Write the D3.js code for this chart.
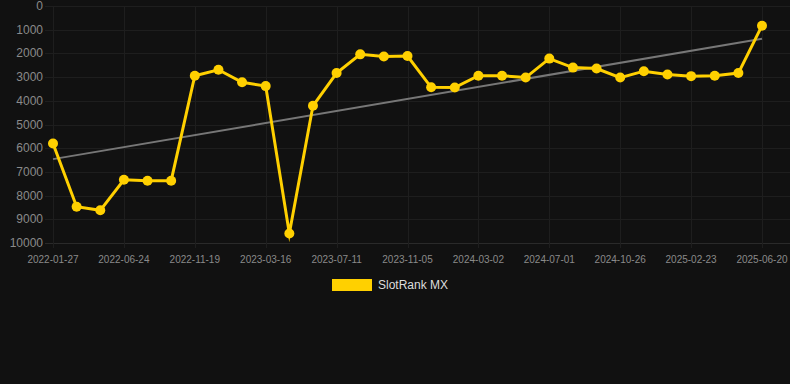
<!DOCTYPE html>
<html><head><meta charset="utf-8">
<script src="https://cdn.jsdelivr.net/npm/d3@7"></script>
<style>
html,body{margin:0;padding:0;background:#111111;}
svg{display:block;font-family:"Liberation Sans",Arial,sans-serif;}
</style></head>
<body>
<svg id="c" width="790" height="384"></svg>
<script>
const seriesName = "SlotRank MX";
const values = [5800,8470,8620,7330,7370,7370,2940,2690,3220,3380,9600,4210,2830,2040,2130,
                2110,3430,3440,2940,2940,3020,2220,2600,2640,3020,2750,2890,2960,2940,2830,830];
const tickLabels = ["2022-01-27","2022-06-24","2022-11-19","2023-03-16","2023-07-11","2023-11-05",
                    "2024-03-02","2024-07-01","2024-10-26","2025-02-23","2025-06-20"];
const tickEvery = 3;
const yTicks = [0,1000,2000,3000,4000,5000,6000,7000,8000,9000,10000];

(function(){
const svg = d3.select("#c");
const W = 790, H = 384;
svg.append("rect").attr("width",W).attr("height",H).attr("fill","#111111");
const pL = 53, pR = 762, pT = 6, pB = 243;

const x = d3.scaleLinear().domain([0, values.length-1]).range([pL, pR]);
const y = d3.scaleLinear().domain([0, 10000]).range([pT, pB]);

// grid
const g = svg.append("g");
g.selectAll("line.h").data(yTicks).join("line")
  .attr("x1", 45).attr("x2", pR+28).attr("y1", d=>Math.round(y(d))+0.5).attr("y2", d=>Math.round(y(d))+0.5)
  .attr("stroke", d=> d===10000 ? "#2a2a2a" : "#1e1e1e").attr("stroke-width",1);
const tickIdx = tickLabels.map((_,i)=>i*tickEvery);
g.selectAll("line.v").data(tickIdx).join("line")
  .attr("x1", d=>Math.round(x(d))+0.5).attr("x2", d=>Math.round(x(d))+0.5)
  .attr("y1", pT).attr("y2", pB+5)
  .attr("stroke","#1e1e1e").attr("stroke-width",1);

// y axis labels
svg.append("g").selectAll("text").data(yTicks).join("text")
  .attr("x", 43).attr("y", d=>y(d)+4)
  .attr("text-anchor","end").attr("fill","#8a8a8a").attr("font-size","12px")
  .text(d=>d);

// x axis labels
svg.append("g").selectAll("text").data(tickLabels).join("text")
  .attr("x", (d,i)=>x(i*tickEvery)).attr("y", 263)
  .attr("text-anchor","middle").attr("fill","#8a8a8a").attr("font-size","10px")
  .text(d=>d);

// trend (least squares)
const n = values.length;
const mx = d3.mean(d3.range(n)), my = d3.mean(values);
let sxy=0, sxx=0;
values.forEach((v,i)=>{sxy+=(i-mx)*(v-my); sxx+=(i-mx)*(i-mx);});
const slope = sxy/sxx, inter = my - slope*mx;
svg.append("line")
  .attr("x1", x(0)).attr("y1", y(inter))
  .attr("x2", x(n-1)).attr("y2", y(inter+slope*(n-1)))
  .attr("stroke","#777777").attr("stroke-width",2);

// series line
const line = d3.line().x((d,i)=>x(i)).y(d=>y(d));
svg.append("path").datum(values).attr("d", line)
  .attr("fill","none").attr("stroke","#FFD000").attr("stroke-width",3)
  .attr("stroke-linejoin","miter").attr("stroke-miterlimit",10);
svg.append("g").selectAll("circle").data(values).join("circle")
  .attr("cx",(d,i)=>x(i)).attr("cy",d=>y(d)).attr("r",5)
  .attr("fill","#FFD000");

// legend
svg.append("rect").attr("x",332).attr("y",279).attr("width",40).attr("height",12).attr("fill","#FFD000");
svg.append("text").attr("x",378).attr("y",289).attr("fill","#dddddd").attr("font-size","12px").text(seriesName);
})();
</script>
</body></html>
